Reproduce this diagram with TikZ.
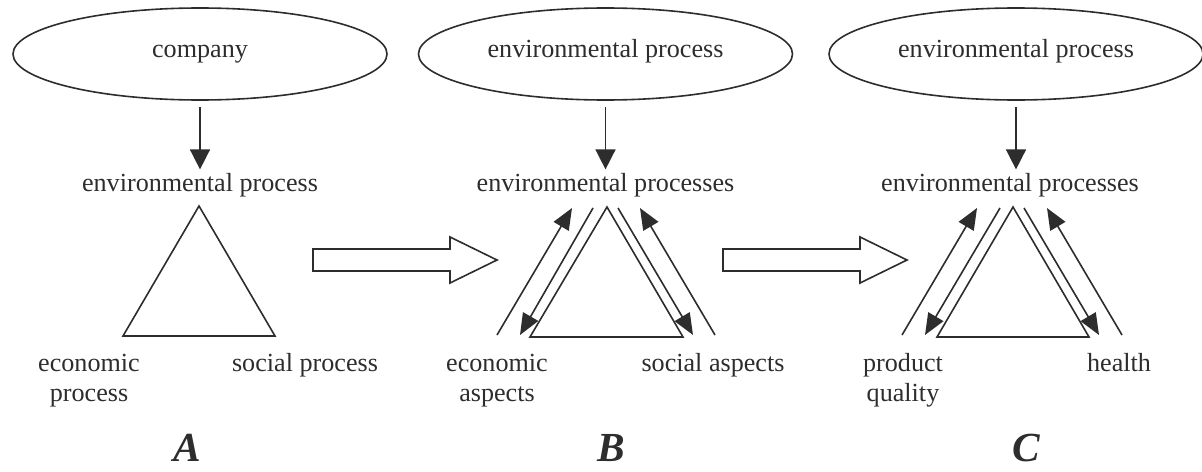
\documentclass[tikz,border=0pt]{standalone}
\usepackage{fontspec}
\setmainfont{Liberation Serif}
\usetikzlibrary{arrows.meta,shapes.geometric}
\definecolor{ink}{RGB}{45,45,45}
\setlength{\tabcolsep}{0pt}
\begin{document}
\begin{tikzpicture}[x=0.75pt,y=-0.75pt,
  every node/.style={text=ink},
  lbl/.style={font=\fontsize{19.6}{22.5}\selectfont, inner sep=0pt, text height=0.7em, text depth=0.25em},
  bot/.style={font=\fontsize{19.6}{22.5}\selectfont, inner sep=0pt, anchor=base},
  oval/.style={draw=ink, line width=1.2pt, ellipse, minimum width=280.5pt, minimum height=69pt, inner sep=0pt,
    font=\fontsize{19.6}{22.5}\selectfont, text height=0.7em, text depth=0.25em},
  line/.style={draw=ink, line width=1.2pt},
  arr/.style={line, -{Triangle[length=15pt,width=15pt]}, shorten <=5pt, shorten >=9pt},
  sarr/.style={line, -{Triangle[length=16pt,width=13pt]}},
  big/.style={draw=ink, line width=1.2pt, fill=white, line join=miter},
  tri/.style={draw=ink, line width=1.2pt, line join=miter},
  tag/.style={font=\fontsize{31}{36}\selectfont\bfseries\itshape, inner sep=0pt, anchor=base}
]
\useasboundingbox (0,0) rectangle (1202,471);

% ---- ovals ----
\node[oval] (eA) at (200,54) {company};
\node[oval] (eB) at (605.5,54) {environmental process};
\node[oval] (eC) at (1016,54) {environmental process};

% ---- top labels ----
\node[lbl, anchor=base] (lA) at (200,191) {environmental process};
\node[lbl, anchor=base] (lB) at (605.5,191) {environmental processes};
\node[lbl, anchor=base] (lC) at (1010,191) {environmental processes};

\draw[arr] (eA.south) -- (eA.south |- lA.north);
\draw[arr] (eB.south) -- (eB.south |- lB.north);
\draw[arr] (eC.south) -- (eC.south |- lC.north);

% ---- triangles ----
\draw[tri] (199,206) coordinate (tA) -- (123,336) coordinate (lA1) -- (275,336) coordinate (rA1) -- cycle;
\draw[tri] (607,207) coordinate (tB) -- (530,337) coordinate (lB1) -- (683,337) coordinate (rB1) -- cycle;
\draw[tri] (1013,207) coordinate (tC) -- (937,337) coordinate (lC1) -- (1089,337) coordinate (rC1) -- cycle;

% ---- side arrows B ----
\coordinate (b1s) at (497,335); \coordinate (b1e) at (572,208);
\coordinate (b2s) at (593,208); \coordinate (b2e) at (520,335);
\coordinate (b3s) at (618,208); \coordinate (b3e) at (693,335);
\coordinate (b4s) at (715,335); \coordinate (b4e) at (640,208);
\draw[sarr] (b1s) -- (b1e);
\draw[sarr] (b2s) -- (b2e);
\draw[sarr] (b3s) -- (b3e);
\draw[sarr] (b4s) -- (b4e);

% ---- side arrows C ----
\coordinate (c1s) at (902,335); \coordinate (c1e) at (977,208);
\coordinate (c2s) at (1000,208); \coordinate (c2e) at (925,335);
\coordinate (c3s) at (1024,208); \coordinate (c3e) at (1099,335);
\coordinate (c4s) at (1122,335); \coordinate (c4e) at (1047,208);
\draw[sarr] (c1s) -- (c1e);
\draw[sarr] (c2s) -- (c2e);
\draw[sarr] (c3s) -- (c3e);
\draw[sarr] (c4s) -- (c4e);

% ---- big hollow arrows ----
\draw[big] (313,249) -- (450,249) -- (450,237) -- (497,260) -- (450,283) -- (450,271) -- (313,271) -- cycle;
\draw[big] (723,249) -- (860,249) -- (860,237) -- (907,260) -- (860,283) -- (860,271) -- (723,271) -- cycle;

% ---- bottom labels ----
\node[bot] (ecA) at (89,371) {\begin{tabular}[t]{c}economic\\process\end{tabular}};
\node[bot] (soA) at (305,371) {social process};
\node[bot] (ecB) at (497,371) {\begin{tabular}[t]{c}economic\\aspects\end{tabular}};
\node[bot] (soB) at (713,371) {social aspects};
\node[bot] (pqC) at (903,371) {\begin{tabular}[t]{c}product\\quality\end{tabular}};
\node[bot] (hC) at (1119,371) {health};

% ---- tags ----
\node[tag] (tagA) at (187,461) {A};
\node[tag] (tagB) at (611,461) {B};
\node[tag] (tagC) at (1026,461) {C};
\end{tikzpicture}
\end{document}
